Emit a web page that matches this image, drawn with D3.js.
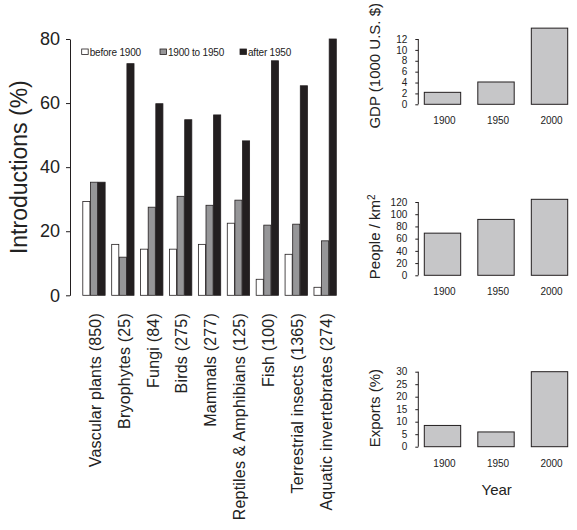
<!DOCTYPE html>
<html>
<head>
<meta charset="utf-8">
<script src="https://cdn.jsdelivr.net/npm/d3@7"></script>
<style>
    body { margin: 0; background: #fff; }
    svg text { font-family: "Liberation Sans", Arial, sans-serif; fill: #222; }
</style>
</head>
<body>
<svg id="chart" width="577" height="530"></svg>
<script>
(function() {
    'use strict';

    // left panel data
    var groups = ["Vascular plants (850)", "Bryophytes (25)", "Fungi (84)", "Birds (275)",
        "Mammals (277)", "Reptiles & Amphibians (125)", "Fish (100)",
        "Terrestrial insects (1365)", "Aquatic invertebrates (274)"];
    var periods = ["before 1900", "1900 to 1950", "after 1950"];
    var before1900 = [29.3, 15.9, 14.4, 14.4, 15.9, 22.5, 5.0, 12.8, 2.5];
    var from1900to1950 = [35.3, 11.9, 27.5, 30.9, 28.1, 29.7, 21.9, 22.2, 17.0];
    var after1950 = [35.3, 72.3, 59.8, 54.8, 56.3, 48.2, 73.2, 65.4, 80.0];
    var introTicks = [0, 20, 40, 60, 80];

    // right panels data
    var years = ["1900", "1950", "2000"];
    var gdp = [2.2, 4.1, 14.0];
    var gdpTicks = [0, 2, 4, 6, 8, 10, 12];
    var density = [69, 91.5, 124.4];
    var densityTicks = [0, 20, 40, 60, 80, 100, 120];
    var exportsPct = [8.5, 5.9, 30];
    var exportsTicks = [0, 5, 10, 15, 20, 25, 30];

    var svg = d3.select("#chart");
    var periodFill = ["#ffffff", "#969698", "#231f20"];
    var series = [before1900, from1900to1950, after1950];

    // ---- left panel ----
    var x0 = d3.scaleBand()
        .domain(groups)
        .range([82.3, 336.3])
        .paddingInner(0.21);
    var x1 = d3.scaleBand()
        .domain(d3.range(periods.length))
        .range([0, x0.bandwidth()]);
    var y = d3.scaleLinear()
        .domain([0, 80])
        .range([295.3, 39]);

    var left = svg.append("g");

    var grp = left.selectAll("g.grp")
        .data(groups)
        .enter().append("g")
        .attr("class", "grp")
        .attr("transform", function(d) {
            return "translate(" + x0(d) + ",0)";
        });

    grp.selectAll("rect")
        .data(function(d, i) {
            return series.map(function(s, k) { return {k: k, v: s[i]}; });
        })
        .enter().append("rect")
        .attr("x", function(d) { return x1(d.k) + 0.5; })
        .attr("y", function(d) { return y(d.v); })
        .attr("width", x1.bandwidth() - 0.5)
        .attr("height", function(d) { return y(0) - y(d.v); })
        .attr("fill", function(d) { return periodFill[d.k]; })
        .attr("stroke", "#231f20")
        .attr("stroke-width", 0.8);

    var yAxis = left.append("g")
        .attr("transform", "translate(70,0)")
        .call(d3.axisLeft(y).tickValues(introTicks).tickSize(4).tickPadding(6).tickSizeOuter(0));
    yAxis.select(".domain").attr("stroke", "#231f20");
    yAxis.selectAll(".tick line").attr("stroke", "#231f20");
    yAxis.selectAll("text").style("font-size", "18px").attr("fill", "#222");

    left.append("text")
        .attr("transform", "translate(27," + y(40) + ") rotate(-90)")
        .attr("text-anchor", "middle")
        .style("font-size", "23px")
        .text("Introductions (%)");

    // category labels
    left.selectAll("text.cat")
        .data(groups)
        .enter().append("text")
        .attr("class", "cat")
        .attr("transform", function(d) {
            return "translate(" + (x0(d) + x0.bandwidth() / 2 + 7) + ",313) rotate(-90)";
        })
        .attr("text-anchor", "end")
        .style("font-size", "16px")
        .style("letter-spacing", "0.2px")
        .text(function(d) { return d; });

    // legend
    var legX = [81.7, 160, 240];
    var leg = left.selectAll("g.leg")
        .data(periods)
        .enter().append("g")
        .attr("class", "leg")
        .attr("transform", function(d, i) { return "translate(" + legX[i] + ",49)"; });
    leg.append("rect")
        .attr("width", 6.5)
        .attr("height", 5.5)
        .attr("fill", function(d, i) { return periodFill[i]; })
        .attr("stroke", "#231f20")
        .attr("stroke-width", 0.8);
    leg.append("text")
        .attr("x", 8)
        .attr("y", 7)
        .style("font-size", "10px")
        .style("letter-spacing", "-0.2px")
        .text(function(d) { return d; });

    // ---- right panels ----
    var xr = d3.scaleBand()
        .domain(years)
        .range([424.3, 567.7])
        .paddingInner(0.32);

    function smallPanel(values, ticks, domainMax, yBottom, yTop, label, labelFn) {
        var ys = d3.scaleLinear().domain([0, domainMax]).range([yBottom, yTop]);
        var g = svg.append("g");

        g.selectAll("rect")
            .data(values)
            .enter().append("rect")
            .attr("x", function(d, i) { return xr(years[i]); })
            .attr("y", function(d) { return ys(d); })
            .attr("width", xr.bandwidth())
            .attr("height", function(d) { return ys(0) - ys(d); })
            .attr("fill", "#c6c6c8")
            .attr("stroke", "#231f20")
            .attr("stroke-width", 1);

        var ax = g.append("g")
            .attr("transform", "translate(418.3,0)")
            .call(d3.axisLeft(ys).tickValues(ticks).tickSize(3).tickPadding(8).tickSizeOuter(0));
        ax.select(".domain").attr("stroke", "#231f20")
            .attr("d", "M0," + ys(ticks[0]) + "V" + ys(ticks[ticks.length - 1]));
        ax.selectAll(".tick line").attr("stroke", "#231f20");
        ax.selectAll("text").style("font-size", "10px").attr("fill", "#222");

        g.selectAll("text.yr")
            .data(years)
            .enter().append("text")
            .attr("class", "yr")
            .attr("x", function(d) { return xr(d) + xr.bandwidth() / 2 + 2; })
            .attr("y", yBottom + 20)
            .attr("text-anchor", "middle")
            .style("font-size", "10px")
            .text(function(d) { return d; });

        var lab = g.append("text")
            .attr("transform", "translate(380," + ((yBottom + (yBottom - 77)) / 2) + ") rotate(-90)")
            .attr("text-anchor", "middle")
            .style("font-size", "15px");
        labelFn(lab, label);
        return ys;
    }

    smallPanel(gdp, gdpTicks, 14, 104.3, 104.3 - 14 * 5.44, "GDP (1000 U.S. $)",
        function(t, s) { t.text(s); });
    smallPanel(density, densityTicks, 120, 275.3, 202, "People / km",
        function(t, s) {
            t.text(s);
            t.append("tspan")
                .attr("dy", "-0.5em")
                .style("font-size", "10px")
                .text("2");
        });
    smallPanel(exportsPct, exportsTicks, 30, 446.7, 371.7, "Exports (%)",
        function(t, s) { t.text(s); });

    svg.append("text")
        .attr("x", 496.7)
        .attr("y", 495)
        .attr("text-anchor", "middle")
        .style("font-size", "15px")
        .text("Year");
})();
</script>
</body>
</html>
